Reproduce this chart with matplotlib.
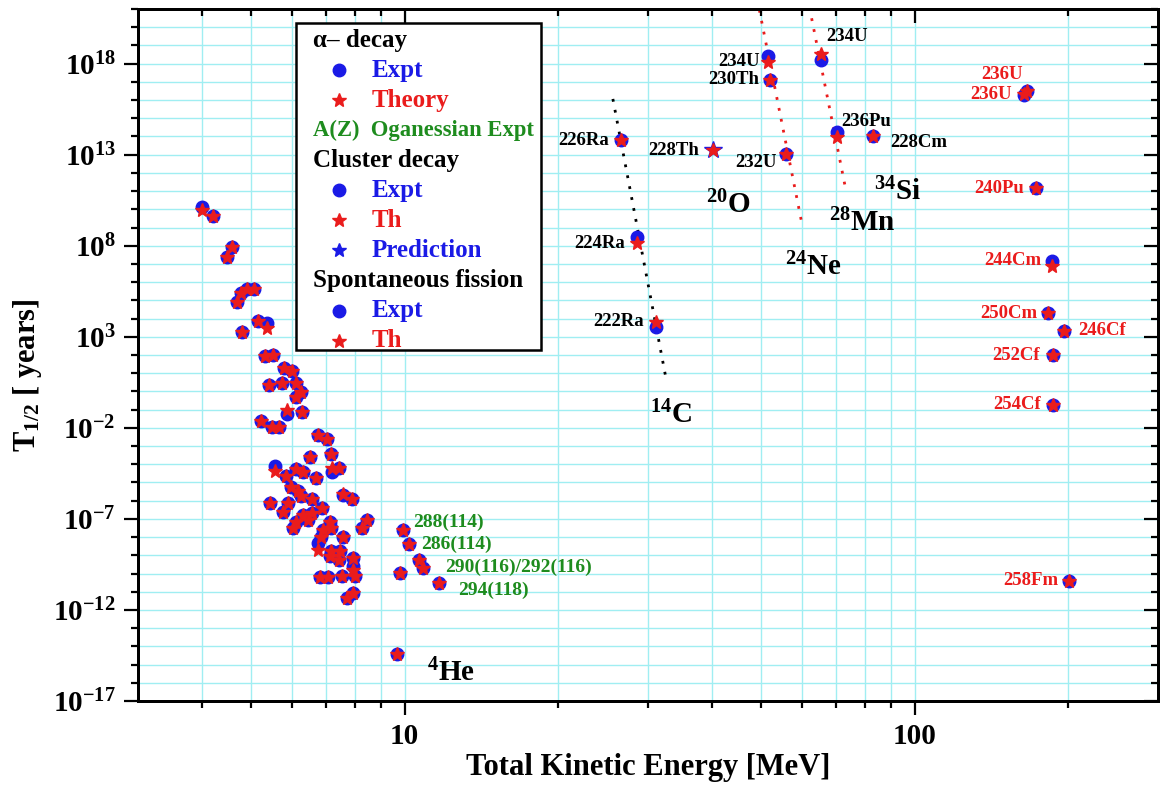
import numpy as np
import matplotlib
matplotlib.use('Agg')
import matplotlib.pyplot as plt
from matplotlib.ticker import FixedLocator, NullFormatter, FixedFormatter, LogFormatterSciNotation
from matplotlib.patches import Rectangle

plt.rcParams['font.family'] = ['Liberation Serif', 'DejaVu Serif']
plt.rcParams['font.weight'] = 'bold'
plt.rcParams['axes.labelweight'] = 'bold'
plt.rcParams['mathtext.fontset'] = 'custom'
plt.rcParams['mathtext.rm'] = 'Liberation Serif:bold'
plt.rcParams['mathtext.it'] = 'Liberation Serif:bold'
plt.rcParams['mathtext.bf'] = 'Liberation Serif:bold'
plt.rcParams['mathtext.default'] = 'rm'

# ---------------- data ----------------
# alpha decay: total kinetic energy [MeV], half-life [years]
alpha_E = [4.00, 4.20, 4.59, 4.49, 4.77, 4.69, 4.90, 5.07, 4.79, 5.16,
           5.37, 5.32, 5.51, 5.80, 6.02, 5.42, 5.76, 6.11, 6.26, 6.11,
           5.87, 6.30, 5.22, 5.49, 5.68, 6.77, 7.05, 7.16, 6.52, 5.57,
           6.11, 6.33, 7.19, 7.44, 5.84, 6.69, 5.99, 6.17, 6.26, 6.57,
           7.58, 7.89, 5.44, 5.91, 5.78, 6.88, 6.57, 6.33, 6.11, 6.47,
           7.14, 7.17, 6.03, 6.93, 6.86, 8.42, 8.26, 7.58, 6.77, 7.16,
           7.47, 7.14, 7.44, 7.91, 7.91, 7.99, 7.55, 6.82, 7.08, 7.93,
           7.70, 9.80, 9.65]
alpha_T_expt = [1.4e10, 4.5e9, 8.9e7, 2.5e7, 2.6e5, 8.5e4, 4.1e5, 4.1e5, 1.9e3, 7.6e3,
                5.5e3, 89, 100, 19, 14, 2.2, 3.0, 2.8, 0.89, 0.48,
                0.058, 0.071, 0.025, 0.011, 0.011, 4.1e-3, 2.5e-3, 3.6e-4, 2.6e-4, 7.9e-5,
                5.2e-5, 3.9e-5, 3.9e-5, 6.0e-5, 2.3e-5, 1.8e-5, 5.9e-6, 3.5e-6, 1.8e-6, 1.2e-6,
                2.0e-6, 1.2e-6, 7.2e-7, 7.2e-7, 2.5e-7, 4.1e-7, 2.0e-7, 1.6e-7, 7.1e-8, 8.7e-8,
                7.1e-8, 3.3e-8, 3.0e-8, 2.5e-8, 1.05e-8, 8.7e-8, 3.0e-8, 1.05e-8, 4.9e-9, 1.7e-9,
                1.7e-9, 9.1e-10, 5.5e-10, 6.9e-10, 2.6e-10, 7.2e-11, 7.2e-11, 6.2e-11, 6.2e-11, 8.9e-12,
                4.7e-12, 1.1e-10, 3.6e-15]
alpha_T_theory = [9.1e9, 4.5e9, 8.9e7, 2.5e7, 2.6e5, 8.5e4, 4.1e5, 4.1e5, 1.9e3, 7.6e3,
                  3.0e3, 89, 100, 19, 14, 2.2, 3.0, 2.8, 0.89, 0.48,
                  0.091, 0.071, 0.025, 0.011, 0.011, 4.1e-3, 2.5e-3, 3.6e-4, 2.6e-4, 4.5e-5,
                  5.8e-5, 3.9e-5, 6.0e-5, 6.0e-5, 2.3e-5, 1.8e-5, 5.9e-6, 3.5e-6, 1.8e-6, 1.2e-6,
                  2.2e-6, 1.2e-6, 7.2e-7, 7.2e-7, 2.5e-7, 4.1e-7, 2.0e-7, 1.6e-7, 7.1e-8, 8.7e-8,
                  7.1e-8, 3.3e-8, 3.0e-8, 2.5e-8, 1.05e-8, 8.7e-8, 3.0e-8, 1.05e-8, 1.9e-9, 1.7e-9,
                  1.7e-9, 9.1e-10, 5.5e-10, 6.9e-10, 1.6e-10, 7.2e-11, 7.2e-11, 6.2e-11, 6.2e-11, 8.9e-12,
                  4.7e-12, 1.1e-10, 3.6e-15]

# Oganessian superheavy alpha emitters
ogan_labels = ['288(114)', '286(114)', '290(116)/292(116)', '', '294(118)']
ogan_E = [9.94, 10.21, 10.68, 10.85, 11.69]
ogan_T = [2.5e-8, 4.2e-9, 5.5e-10, 2.1e-10, 2.9e-11]

# cluster decay
cl_names = ['226Ra', '228Th', '234U', '230Th', '232U', '234U', '236Pu', '228Cm', '224Ra', '222Ra']
cl_E = [26.5, 40.2, 51.6, 52.0, 55.9, 65.4, 70.3, 82.7, 28.6, 31.05]
cl_T_expt = [6.4e13, np.nan, 2.6e18, 1.3e17, 1.1e13, 1.6e18, 1.7e14, 1.07e14, 2.9e8, 3.3e3]
cl_T_th = [6.4e13, 1.8e13, 1.3e18, 1.3e17, 1.1e13, 3.2e18, 9.8e13, 1.07e14, 1.35e8, 6.7e3]
cl_T_pred = [np.nan, 1.8e13, np.nan, np.nan, np.nan, np.nan, np.nan, np.nan, np.nan, np.nan]

# dotted systematics lines (14C, 24Ne, 28Mg)
line14C_E = [25.6, 32.5]
line14C_T = [1.15e16, 6.2]
line24Ne_E = [49.6, 60.0]
line24Ne_T = [8.9e20, 2.1e9]
line28_E = [62.8, 73.3]
line28_T = [3.1e20, 1.15e11]

# spontaneous fission
sf_names = ['236U', '236U', '240Pu', '244Cm', '250Cm', '246Cf', '252Cf', '254Cf', '258Fm']
sf_E = [166, 164, 172.7, 186.2, 182.8, 196.3, 187.0, 186.5, 201]
sf_T_expt = [3.0e16, 1.9e16, 1.4e11, 1.5e7, 1.95e4, 2.1e3, 100, 0.18, 3.9e-11]
sf_T_th = [3.0e16, 2.2e16, 1.4e11, 7.7e6, 1.95e4, 2.1e3, 100, 0.18, 3.9e-11]

x_major = [10, 100]
x_major_labels = ['10', '100']
x_minor = [4, 5, 6, 7, 8, 9, 20, 30, 40, 50, 60, 70, 80, 90, 200]
y_major = [1e-17, 1e-12, 1e-7, 1e-2, 1e3, 1e8, 1e13, 1e18]
y_minor = [10.0 ** k for k in range(-17, 22)]

# ---------------- style ----------------
BLUE = '#1a1ae6'
RED = '#ea1c1c'
GREEN = '#1e8c1e'
GRID = '#a0eef2'
PX = 1165.0
PY = 791.0
L, R, T, B = 138, 1158, 9, 701

fig = plt.figure(figsize=(PX / 100, PY / 100), dpi=100)
ax = fig.add_axes([L / PX, 1 - B / PY, (R - L) / PX, (B - T) / PY])
ax.set_xscale('log')
ax.set_yscale('log')
ax.set_xlim(3, 300)
ax.set_ylim(1e-17, 1e21)

ax.xaxis.set_major_locator(FixedLocator(x_major))
ax.xaxis.set_major_formatter(FixedFormatter(x_major_labels))
ax.xaxis.set_minor_locator(FixedLocator(x_minor))
ax.xaxis.set_minor_formatter(NullFormatter())
ax.yaxis.set_major_locator(FixedLocator(y_major))
ax.yaxis.set_major_formatter(LogFormatterSciNotation())
ax.yaxis.set_minor_locator(FixedLocator(y_minor))
ax.yaxis.set_minor_formatter(NullFormatter())

ax.grid(True, which='both', color=GRID, lw=1.0)
ax.set_axisbelow(True)
ax.tick_params(which='major', direction='out', length=10, width=1.6, labelsize=21, pad=6)
ax.tick_params(which='minor', direction='out', length=5, width=1.6)
for s in ax.spines.values():
    s.set_linewidth(2.0)

# inward ticks on top and right
axr = ax.twinx()
axr.set_yscale('log')
axr.set_ylim(ax.get_ylim())
axr.yaxis.set_major_locator(FixedLocator(y_major))
axr.yaxis.set_minor_locator(FixedLocator(y_minor))
axr.yaxis.set_major_formatter(NullFormatter())
axr.yaxis.set_minor_formatter(NullFormatter())
axr.tick_params(which='major', direction='in', length=10, width=1.6)
axr.tick_params(which='minor', direction='in', length=5, width=1.6)
axt = ax.twiny()
axt.set_xscale('log')
axt.set_xlim(ax.get_xlim())
axt.xaxis.set_major_locator(FixedLocator(x_major))
axt.xaxis.set_minor_locator(FixedLocator(x_minor))
axt.xaxis.set_major_formatter(NullFormatter())
axt.xaxis.set_minor_formatter(NullFormatter())
axt.tick_params(which='major', direction='in', length=10, width=1.6)
axt.tick_params(which='minor', direction='in', length=5, width=1.6)
for a in (axr, axt):
    for s in a.spines.values():
        s.set_linewidth(2.0)

ax.set_xlabel('Total Kinetic Energy [MeV]', fontsize=22, fontweight='bold', labelpad=2)
ax.set_ylabel(r'$T_{1/2}$ [ years]', fontsize=22, fontweight='bold')
ax.yaxis.set_label_coords(-0.092, 0.47)

CS = 9   # circle size
SS = 10  # star size

# dotted lines
ax.plot(line14C_E, line14C_T, color='k', lw=2, ls=(0, (1, 3)), zorder=2)
ax.plot(line24Ne_E, line24Ne_T, color=RED, lw=2, ls=(0, (1, 3)), zorder=2)
ax.plot(line28_E, line28_T, color=RED, lw=2, ls=(0, (1, 3)), zorder=2)

# alpha decay
ax.plot(alpha_E, alpha_T_expt, 'o', color=BLUE, ms=CS, mec=BLUE, zorder=3)
ax.plot(alpha_E, alpha_T_theory, '*', color=RED, ms=SS, mec=RED, zorder=4)
ax.plot(ogan_E, ogan_T, 'o', color=BLUE, ms=CS, zorder=3)
ax.plot(ogan_E, ogan_T, '*', color=RED, ms=SS, zorder=4)
ogan_off = [(10, 8), (12, 0), (26, -7), None, (19, -7)]
for lab, e, t, off in zip(ogan_labels, ogan_E, ogan_T, ogan_off):
    if lab:
        ax.annotate(lab, (e, t), xytext=off, textcoords='offset pixels',
                    ha='left', va='center', color=GREEN, fontsize=14)

# cluster decay
ax.plot(cl_E, cl_T_expt, 'o', color=BLUE, ms=CS, zorder=3)
ax.plot(cl_E, cl_T_pred, '*', color=BLUE, ms=SS + 3, zorder=3)
ax.plot(cl_E, cl_T_th, '*', color=RED, ms=SS, zorder=4)
cl_off = [(-12, 0, 'right'), (-14, 0, 'right'), (-8, 0, 'right'), (-11, 0, 'right'),
          (-9, -9, 'right'), (6, 18, 'left'), (5, 15, 'left'), (18, -7, 'left'),
          (-12, 0, 'right'), (-12, 0, 'right')]
for name, e, t, off in zip(cl_names, cl_E, cl_T_th, cl_off):
    ax.annotate(name, (e, t), xytext=off[:2], textcoords='offset pixels',
                ha=off[2], va='center', color='k', fontsize=13.5)

# spontaneous fission
ax.plot(sf_E, sf_T_expt, 'o', color=BLUE, ms=CS, zorder=3)
ax.plot(sf_E, sf_T_th, '*', color=RED, ms=SS, zorder=4)
sf_off = [(-4, 17, 'right'), (-12, 0, 'right'), (-12, 0, 'right'), (-11, 0, 'right'),
          (-11, 0, 'right'), (14, 0, 'left'), (-13, 0, 'right'), (-12, 0, 'right'),
          (-11, 0, 'right')]
for name, e, t, off in zip(sf_names, sf_E, sf_T_expt, sf_off):
    ax.annotate(name, (e, t), xytext=off[:2], textcoords='offset pixels',
                ha=off[2], va='center', color=RED, fontsize=13.5)

# emitted particle labels
big_labels = [(r'$^{14}$C', 30.3, 10 ** -1.73), (r'$^{20}$O', 38.9, 10 ** 9.80),
              (r'$^{24}$Ne', 55.7, 10 ** 6.39), (r'$^{28}$Mn', 67.9, 10 ** 8.77),
              (r'$^{34}$Si', 83.2, 10 ** 10.51), (r'$^{4}$He', 11.06, 10 ** -15.94)]
for txt, e, t in big_labels:
    ax.text(e, t, txt, fontsize=21, ha='left', va='baseline', color='k', zorder=5)

# ---------------- legend (manual) ----------------
def fx(px):
    return (px - L) / (R - L)

def fy(py):
    return 1 - (py - T) / (B - T)

ax.add_patch(Rectangle((fx(296), fy(350)), fx(541) - fx(296), fy(23) - fy(350),
                       transform=ax.transAxes, facecolor='white', edgecolor='k',
                       lw=1.8, zorder=6))
leg_rows = [('h', 'α– decay', 'k', 18), ('o', 'Expt', BLUE, 18), ('*', 'Theory', RED, 18),
            ('g', 'A(Z)  Oganessian Expt', GREEN, 16.3), ('h', 'Cluster decay', 'k', 18),
            ('o', 'Expt', BLUE, 18), ('*', 'Th', RED, 18), ('*', 'Prediction', BLUE, 18),
            ('h', 'Spontaneous fission', 'k', 18), ('o', 'Expt', BLUE, 18), ('*', 'Th', RED, 18)]
row_y = 40
for kind, txt, col, fs in leg_rows:
    if kind in ('h', 'g'):
        ax.text(fx(313), fy(row_y), txt, transform=ax.transAxes, fontsize=fs,
                color=col, ha='left', va='center', zorder=7)
    else:
        ax.plot([fx(338.7)], [fy(row_y)], kind, color=col, ms=CS if kind == 'o' else SS,
                transform=ax.transAxes, zorder=7, clip_on=False)
        ax.text(fx(371.7), fy(row_y), txt, transform=ax.transAxes, fontsize=fs,
                color=col, ha='left', va='center', zorder=7)
    row_y += 30.07

fig.savefig('out.png', dpi=100)
